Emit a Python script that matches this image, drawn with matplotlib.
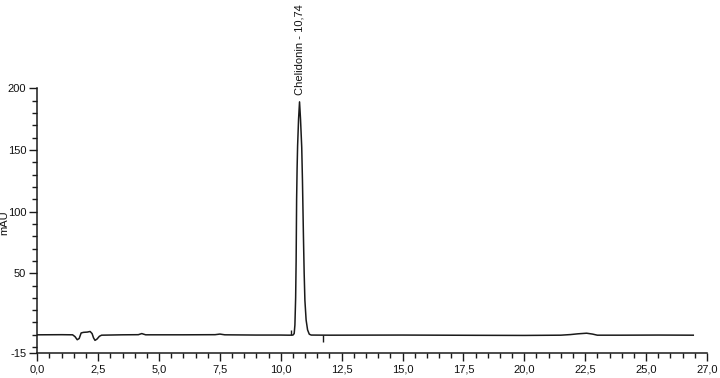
import matplotlib

matplotlib.use("Agg")
import matplotlib.pyplot as plt
from matplotlib.ticker import FixedLocator, MultipleLocator
import numpy as np

plt.rcParams["font.family"] = ["Liberation Sans", "DejaVu Sans"]
plt.rcParams["axes.unicode_minus"] = False

# chromatogram trace (time in min, signal in mAU)
time_min = [
    0.0, 1.0, 1.45, 1.55, 1.64, 1.72, 1.80, 1.90, 2.05, 2.17, 2.25, 2.31, 2.37,
    2.45, 2.55, 2.64, 3.5, 4.15, 4.29, 4.45, 6.0, 7.3, 7.5, 7.7, 9.0, 10.0,
    10.35, 10.50, 10.55, 10.58, 10.61, 10.63, 10.65, 10.67, 10.69, 10.73,
    10.77, 10.81, 10.86, 10.89, 10.93, 10.96, 10.99, 11.04, 11.10, 11.17,
    11.25, 12.0, 15.0, 18.0, 20.0, 21.5, 21.9, 22.2, 22.56, 22.8, 23.0,
    24.0, 25.5, 26.94,
]
signal_mau = [
    0.0, 0.1, 0.0, -1.5, -4.0, -3.0, 1.5, 2.0, 2.2, 2.7, 1.0, -2.5, -4.5,
    -3.5, -1.2, -0.3, 0.0, 0.1, 1.0, 0.0, 0.0, 0.1, 0.6, 0.0, -0.2, -0.2,
    -0.3, -0.2, 1.0, 8.0, 30.0, 60.0, 110.0, 135.0, 153.0, 175.0,
    189.0, 175.0, 152.0, 125.0, 80.0, 50.0, 28.0, 12.0, 4.0, 0.5,
    -0.2, -0.3, -0.2, -0.4, -0.5, -0.3, 0.2, 0.8, 1.3, 0.6, -0.3,
    -0.3, -0.2, -0.3,
]

# integration start / end marks on the baseline
mark_times = [10.41, 11.75]
mark_tops = [4.0, -0.3]
mark_bottoms = [-0.3, -6.0]

peak_name = "Chelidonin - 10,74"
peak_time = 10.77
peak_height = 189.0

x_ticks = [0.0, 2.5, 5.0, 7.5, 10.0, 12.5, 15.0, 17.5, 20.0, 22.5, 25.0, 27.5]
x_tick_labels = ["0,0", "2,5", "5,0", "7,5", "10,0", "12,5", "15,0", "17,5",
                 "20,0", "22,5", "25,0", "27,0"]
y_ticks = [-15, 50, 100, 150, 200]

fig = plt.figure(figsize=(7.2, 3.78), dpi=100)
ax = fig.add_axes([37.3 / 720, 1 - 353.3 / 378, 669.6 / 720, 265.0 / 378])

ax.plot(time_min, signal_mau, color="#1a1a1a", linewidth=1.1)
ax.vlines(mark_times, mark_bottoms, mark_tops, color="#1a1a1a", linewidth=1.0)

ax.annotate(peak_name, xy=(peak_time, peak_height), xytext=(0, 5),
            textcoords="offset points", rotation=90, ha="center", va="bottom",
            fontsize=8, color="#111111")

ax.set_xlim(0, 27.5)
ax.set_ylim(-15, 200)
ax.xaxis.set_major_locator(FixedLocator(x_ticks))
ax.set_xticklabels(x_tick_labels)
ax.xaxis.set_minor_locator(MultipleLocator(0.5))
ax.yaxis.set_major_locator(FixedLocator(y_ticks))
ax.yaxis.set_minor_locator(FixedLocator([v for v in range(-10, 200, 10) if v not in y_ticks]))

for side in ("top", "right"):
    ax.spines[side].set_visible(False)
for side in ("left", "bottom"):
    ax.spines[side].set_linewidth(1.1)
    ax.spines[side].set_color("#1a1a1a")

ax.tick_params(which="major", length=6, width=1.0, color="#1a1a1a",
               labelsize=8, labelcolor="#111111", pad=2)
ax.tick_params(which="minor", length=3.5, width=1.0, color="#1a1a1a")

fig.text(9.5 / 720, 1 - 223 / 378, "mAU", rotation=90, ha="right", va="center",
         fontsize=8, color="#111111")

fig.savefig("out.png", dpi=100)
